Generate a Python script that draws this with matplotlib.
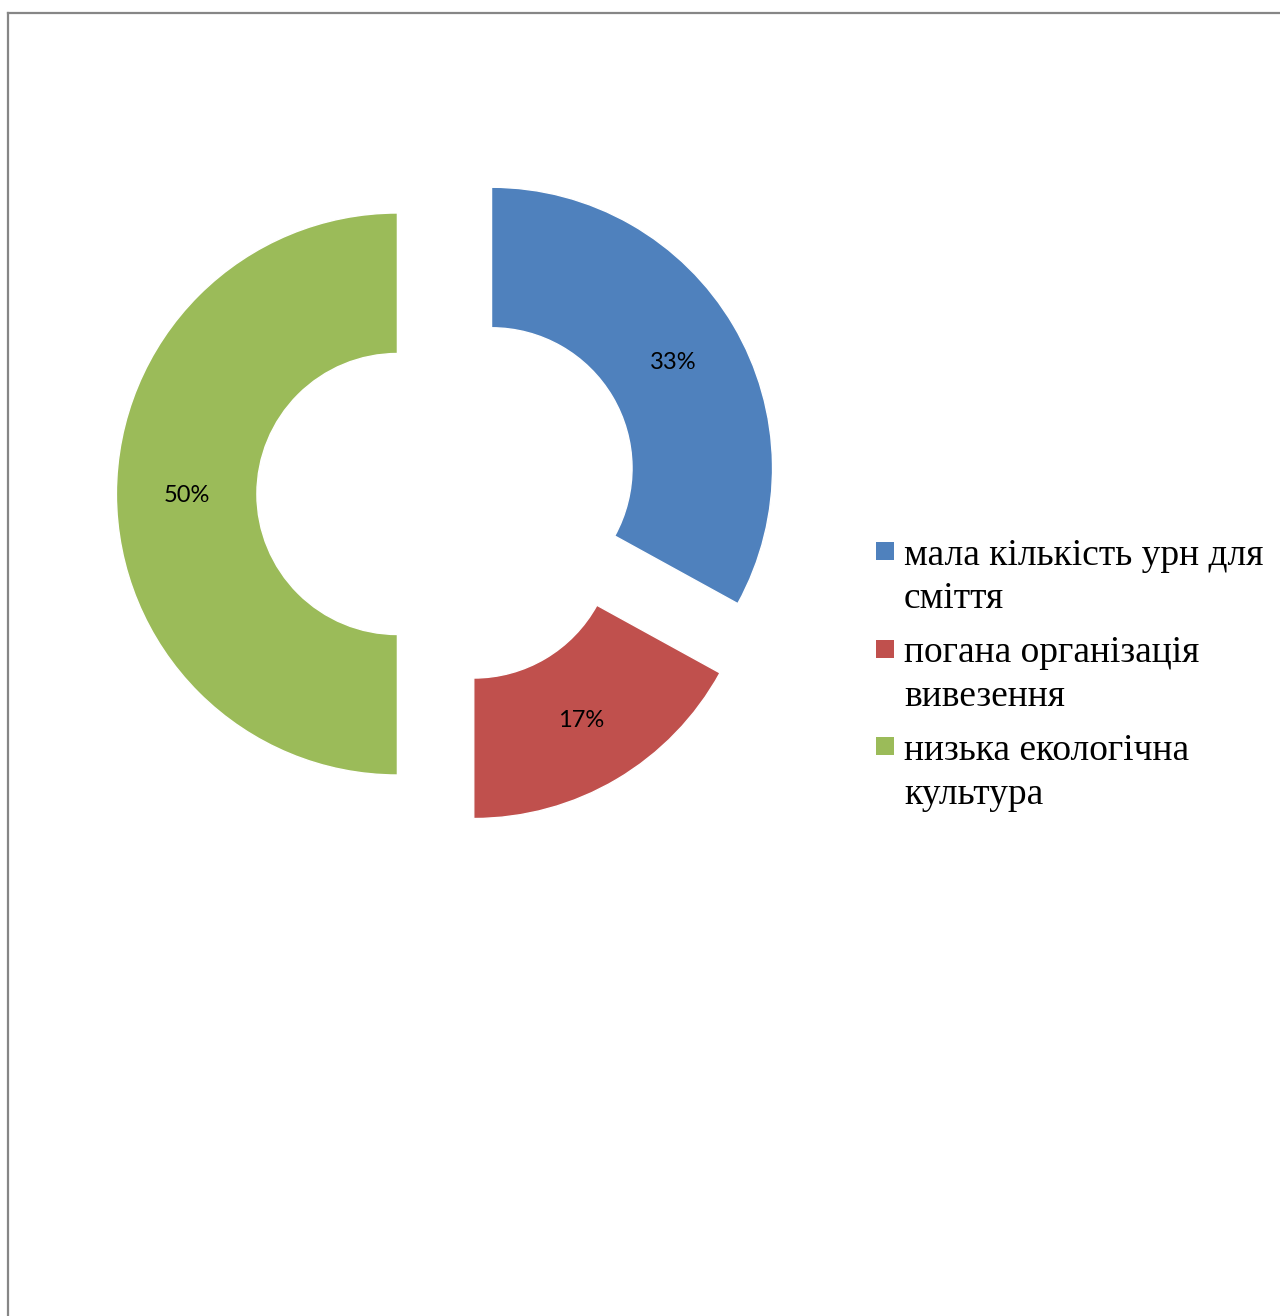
import matplotlib
matplotlib.use("Agg")
import matplotlib.pyplot as plt
from matplotlib.patches import Rectangle
from matplotlib.lines import Line2D

# Survey shares (percent) and legend labels
categories = [
    "мала кількість урн для\nсміття",
    "погана організація\nвивезення",
    "низька екологічна\nкультура",
]
shares = [33, 17, 50]
colors = ["#4F81BD", "#C0504D", "#9BBB59"]

W, H = 1280, 1316
DPI = 100
fig = plt.figure(figsize=(W / DPI, H / DPI), dpi=DPI)
fig.patch.set_facecolor("white")


def fx(px):
    return px / W


def fy(py):
    return 1 - py / H


# Chart-area frame (only the top and left edges fall inside the canvas)
frame_col = "#868686"
fig.add_artist(Line2D([fx(8), fx(8)], [fy(13), fy(H + 5)], color=frame_col, lw=1.6,
                      transform=fig.transFigure))
fig.add_artist(Line2D([fx(8), fx(W + 5)], [fy(13), fy(13)], color=frame_col, lw=1.6,
                      transform=fig.transFigure))

# Doughnut: axes spans the whole figure, one data unit = outer radius in pixels
R_PX = 281.0
cx, cy = 448.0, 494.0
ax = fig.add_axes([0, 0, 1, 1])
ax.pie(
    shares,
    colors=colors,
    startangle=90,
    counterclock=False,
    explode=[0.18] * len(shares),
    radius=1.0,
    wedgeprops=dict(width=0.5, edgecolor="white", linewidth=1.0),
    autopct="%.0f%%",
    pctdistance=0.75,
    textprops=dict(family="Lato", fontsize=17, color="black",
                   verticalalignment="center_baseline"),
)
ax.set_aspect("auto")
ax.set_xlim(-cx / R_PX, (W - cx) / R_PX)
ax.set_ylim(-(H - cy) / R_PX, cy / R_PX)
ax.axis("off")

# Legend: coloured squares with two-line serif labels
first_baseline = 565
entry_step = 97.5
line_step = 43.5
for i, (label, col) in enumerate(zip(categories, colors)):
    base = first_baseline + i * entry_step
    sq_top = base - 23
    fig.add_artist(Rectangle((fx(876), fy(sq_top + 18)), 18 / W, 18 / H,
                             facecolor=col, edgecolor="none",
                             transform=fig.transFigure))
    for j, line in enumerate(label.split("\n")):
        fig.text(fx(904), fy(base + j * line_step), line, family="Liberation Serif",
                 fontsize=27, color="black", ha="left", va="baseline")

fig.savefig("out.png", dpi=DPI, facecolor="white")
